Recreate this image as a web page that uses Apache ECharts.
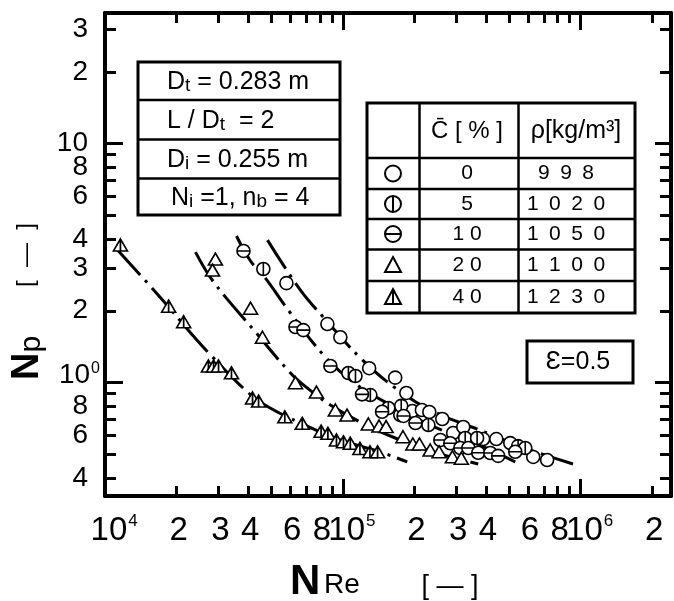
<!DOCTYPE html>
<html>
<head>
<meta charset="utf-8">
<script src="https://cdn.jsdelivr.net/npm/echarts@6.0.0/dist/echarts.min.js"></script>
<style>
html,body{margin:0;padding:0;background:#ffffff;}
#chart{width:674px;height:601px;}
</style>
</head>
<body>
<div id="chart"></div>
<script>
// ---------- axis ticks & labels ----------
const xTickValues = [1e4, 2e4, 3e4, 4e4, 6e4, 8e4, 1e5, 2e5, 3e5, 4e5, 6e5, 8e5, 1e6, 2e6];
const xTickLabels = ['10^4', '2', '3', '4', '6', '8', '10^5', '2', '3', '4', '6', '8', '10^6', '2'];
const xMinorTicks = [2e4, 3e4, 4e4, 5e4, 6e4, 7e4, 8e4, 9e4, 2e5, 3e5, 4e5, 5e5, 6e5, 7e5, 8e5, 9e5, 2e6];
const xMajorTicks = [1e4, 1e5, 1e6];
const yTickValues = [0.4, 0.6, 0.8, 1, 2, 3, 4, 6, 8, 10, 20, 30];
const yTickLabels = ['4', '6', '8', '10^0', '2', '3', '4', '6', '8', '10', '2', '3'];
const yMinorTicks = [0.4, 0.5, 0.6, 0.7, 0.8, 0.9, 2, 3, 4, 5, 6, 7, 8, 9, 20, 30];
const yMajorTicks = [1, 10];

// ---------- data (N_Re, N_p) ----------
const seriesC0 = [[5.79e4,2.61],[8.61e4,1.76],[9.76e4,1.55],[1.29e5,1.15],[1.66e5,1.05],[1.85e5,0.906],[1.96e5,0.761],[2.15e5,0.769],[2.31e5,0.754],[2.62e5,0.705],[2.91e5,0.616],[3.21e5,0.653],[3.89e5,0.581],[4.42e5,0.581],[5.06e5,0.559],[6.32e5,0.489],[7.23e5,0.475]];
const seriesC5 = [[4.63e4,2.99],[1.055e5,1.098],[1.13e5,1.067],[1.305e5,0.888],[1.553e5,0.784],[1.744e5,0.732],[1.76e5,0.80],[2.29e5,0.665],[3.27e5,0.587],[3.67e5,0.587],[5.46e5,0.543],[5.85e5,0.533]];
const seriesC10 = [[3.82e4,3.56],[6.32e4,1.71],[6.82e4,1.66],[8.86e4,1.175],[1.204e5,0.894],[1.462e5,0.756],[1.80e5,0.726],[2.02e5,0.678],[2.57e5,0.576],[2.83e5,0.558],[3.12e5,0.533],[3.37e5,0.533],[3.71e5,0.509],[4.17e5,0.508],[4.5e5,0.494],[5.31e5,0.514]];
const seriesC20 = [[2.91e4,3.29],[2.83e4,2.96],[4.09e4,2.05],[4.59e4,1.55],[6.32e4,1.0],[7.74e4,0.914],[9.3e4,0.769],[1.041e5,0.732],[1.28e5,0.672],[1.42e5,0.659],[1.52e5,0.655],[1.79e5,0.594],[1.97e5,0.554],[2.10e5,0.554],[2.33e5,0.523],[2.54e5,0.514],[2.89e5,0.490],[3.15e5,0.483]];
const seriesC40 = [[1.16e4,3.77],[1.85e4,2.09],[2.14e4,1.80],[2.72e4,1.175],[2.86e4,1.175],[3.0e4,1.175],[3.40e4,1.10],[4.17e4,0.863],[4.42e4,0.838],[5.7e4,0.72],[6.75e4,0.676],[8.1e4,0.627],[8.65e4,0.614],[9.4e4,0.576],[1.006e5,0.566],[1.075e5,0.558],[1.18e5,0.531],[1.30e5,0.514],[1.40e5,0.514]];

const curveC0 = [[4.82e4,3.95],[6.63e4,2.44],[8.28e4,1.88],[1.184e5,1.27],[1.662e5,0.95],[2.33e5,0.769],[3.85e5,0.628],[6.14e5,0.523],[9.29e5,0.457]];
const curveC10 = [[3.57e4,4.11],[4.09e4,3.23],[4.68e4,2.77],[6.02e4,1.957],[8.44e4,1.281],[1.118e5,0.997],[1.584e5,0.807],[2.33e5,0.665],[3.75e5,0.549],[5.31e5,0.466]];
const curveC20 = [[2.40e4,3.52],[2.86e4,2.64],[4.29e4,1.63],[6.02e4,1.098],[7.09e4,0.95],[8.86e4,0.807],[1.208e5,0.678],[1.662e5,0.587],[2.33e5,0.518],[3.71e5,0.457]];
const curveC40 = [[1.128e4,3.59],[1.744e4,2.22],[2.29e4,1.614],[2.78e4,1.306],[4.01e4,0.906],[4.86e4,0.791],[6.63e4,0.678],[9.76e4,0.576],[1.438e5,0.513],[1.866e5,0.466]];

// ---------- legend table ----------
const legendConc = ['0', '5', '10', '20', '40'];
const legendRho = ['998', '1020', '1050', '1100', '1230'];

const F = "'Liberation Sans', Arial, sans-serif";

const SYM_CV = 'path://M10,0A10,10,0,1,1,10,20A10,10,0,1,1,10,0ZM10,0L10,20';
const SYM_CH = 'path://M0,10A10,10,0,1,1,20,10A10,10,0,1,1,0,10ZM0,10L20,10';
const SYM_TV = 'path://M10,0L20,17L0,17ZM10,0L10,17';

function findIdx(vals, v) {
  for (let i = 0; i < vals.length; i++) {
    if (Math.abs(vals[i] - v) <= vals[i] * 1e-6) return i;
  }
  return -1;
}
function makeFmt(vals, labels) {
  return function (v) {
    const i = findIdx(vals, v);
    if (i < 0) return '';
    const s = labels[i];
    if (s.indexOf('^') >= 0) {
      const p = s.split('^');
      return '{p|' + p[0] + '}{s|' + p[1] + '}';
    }
    return '{m|' + s + '}';
  };
}

const X_MIN = 9990, X_MAX = 2.4e6, Y_MIN = 0.3357, Y_MAX = 35.24;
const axisLineStyle = {color: '#000', width: 4};
const tickStyle = {color: '#000', width: 3};

function xAxisDef(pos, showLine, ticks, len, withLabels) {
  return {
    type: 'log', logBase: 10, position: pos, min: X_MIN, max: X_MAX, gridIndex: 0,
    axisLine: {show: showLine, onZero: false, lineStyle: axisLineStyle},
    axisTick: {show: true, inside: true, length: len, customValues: ticks, lineStyle: tickStyle},
    axisLabel: withLabels ? {
      show: true, customValues: xTickValues, margin: 17,
      formatter: makeFmt(xTickValues, xTickLabels),
      rich: {
        m: {fontSize: 33, fontFamily: F, color: '#000', lineHeight: 36, padding: [0, 0, 0, 4]},
        p: {fontSize: 33, fontFamily: F, color: '#000', lineHeight: 36, padding: [0, 0, 0, 18]},
        s: {fontSize: 17, fontFamily: F, color: '#000', lineHeight: 17, padding: [0, 0, 19, 1]}
      }
    } : {show: false},
    splitLine: {show: false}, minorTick: {show: false}, minorSplitLine: {show: false}
  };
}
function yAxisDef(pos, showLine, ticks, len, withLabels) {
  return {
    type: 'log', logBase: 10, position: pos, min: Y_MIN, max: Y_MAX, gridIndex: 0,
    axisLine: {show: showLine, onZero: false, lineStyle: axisLineStyle},
    axisTick: {show: true, inside: true, length: len, customValues: ticks, lineStyle: tickStyle},
    axisLabel: withLabels ? {
      show: true, customValues: yTickValues, margin: 5,
      formatter: makeFmt(yTickValues, yTickLabels),
      rich: {
        m: {fontSize: 28, fontFamily: F, color: '#000', lineHeight: 30, padding: [0, 12, 0, 0]},
        p: {fontSize: 28, fontFamily: F, color: '#000', lineHeight: 30, padding: [0, 0, 14, 0]},
        s: {fontSize: 16, fontFamily: F, color: '#000', lineHeight: 16, padding: [0, 0, 28, 1]}
      }
    } : {show: false},
    splitLine: {show: false}, minorTick: {show: false}, minorSplitLine: {show: false}
  };
}

const dashDot = [34, 7, 3, 7];
function curve(data) {
  return {type: 'line', data: data, symbol: 'none', smooth: 0.4, silent: true, z: 2,
    xAxisIndex: 0, yAxisIndex: 0,
    lineStyle: {color: '#000', width: 3, type: dashDot}};
}
function points(data, symbol, size) {
  return {type: 'scatter', data: data, symbol: symbol, symbolSize: size, symbolKeepAspect: false,
    xAxisIndex: 0, yAxisIndex: 0, z: 3,
    itemStyle: {color: '#fff', borderColor: '#000', borderWidth: 1.6, opacity: 1}};
}

// ---------- annotation graphics ----------
const g = [];
function line(x1, y1, x2, y2, w, z) { g.push({type: 'line', z: z || 100, shape: {x1, y1, x2, y2}, style: {stroke: '#000', lineWidth: w || 2.5}}); }
function rect(x, y, w, h) { g.push({type: 'rect', z: 99, shape: {x, y, width: w, height: h}, style: {fill: '#fff', stroke: '#000', lineWidth: 3}}); }
function text(x, y, t, size, align, rich, family, rot, weight) {
  g.push({type: 'text', z: 101, x: x, y: y, rotation: rot || 0,
    style: {text: t, fontSize: size, fontFamily: family || F, fontWeight: weight || 'normal', fill: '#000', align: align || 'center', verticalAlign: 'middle', rich: rich}});
}
// left parameter box
rect(138, 62, 202, 153);
line(138, 100, 340, 100); line(138, 139.5, 340, 139.5); line(138, 178.5, 340, 178.5);
const boxRich = {
  a: {fontSize: 25, fontFamily: F, fill: '#000', verticalAlign: 'bottom', lineHeight: 28},
  b: {fontSize: 19, fontFamily: F, fill: '#000', verticalAlign: 'bottom', lineHeight: 26}
};
text(167, 81, '{a|D}{b|t}{a| = 0.283 m}', 25, 'left', boxRich);
text(167, 120, '{a|L / D}{b|t}{a|  = 2}', 25, 'left', boxRich);
text(167, 159, '{a|D}{b|i}{a| = 0.255 m}', 25, 'left', boxRich);
text(171, 197, '{a|N}{b|i}{a| =1, n}{b|b}{a| = 4}', 25, 'left', boxRich);

// right legend table
rect(367, 103, 268, 210);
line(419.5, 103, 419.5, 313); line(518.5, 103, 518.5, 313);
const rowLines = [158, 189, 219, 249.5, 281];
rowLines.forEach(y => line(367, y, 635, y));
text(467, 131, 'C\u0304 [ % ]', 24, 'center');
text(576, 131, '\u03c1[kg/m\u00b3]', 25, 'center');
const rowCenters = [173.5, 204, 234, 265, 297];
for (let i = 0; i < legendConc.length; i++) {
  text(467, rowCenters[i], legendConc[i].split('').join(' '), 21, 'center');
  text(566, rowCenters[i], legendRho[i].split('').join('\u2002'), 21, 'center');
}
const sx = 393;
const symStyle = {fill: '#fff', stroke: '#000', lineWidth: 2};
g.push({type: 'circle', z: 101, shape: {cx: sx, cy: rowCenters[0], r: 8}, style: symStyle});
g.push({type: 'circle', z: 101, shape: {cx: sx, cy: rowCenters[1], r: 8}, style: symStyle});
line(sx, rowCenters[1] - 8, sx, rowCenters[1] + 8, 2, 105);
g.push({type: 'circle', z: 101, shape: {cx: sx, cy: rowCenters[2], r: 8}, style: symStyle});
line(sx - 8, rowCenters[2], sx + 8, rowCenters[2], 2, 105);
g.push({type: 'polygon', z: 101, shape: {points: [[sx, rowCenters[3] - 8], [sx + 8, rowCenters[3] + 7], [sx - 8, rowCenters[3] + 7]]}, style: symStyle});
g.push({type: 'polygon', z: 101, shape: {points: [[sx, rowCenters[4] - 8], [sx + 8, rowCenters[4] + 7], [sx - 8, rowCenters[4] + 7]]}, style: symStyle});
line(sx, rowCenters[4] - 8, sx, rowCenters[4] + 7, 2, 105);

// epsilon box
rect(527, 341, 106, 42);
text(578, 362, '\u0190=0.5', 25, 'center');

// axis titles
text(290, 582, 'N', 42, 'left', null, F, 0, 'bold');
text(324, 585, 'Re', 28, 'left');
text(450, 587, '[ \u2014 ]', 27, 'center');
text(26, 358, '{n|N}{q|p}', 38, 'center', {
  n: {fontSize: 38, fontFamily: F, fontWeight: 'bold', fill: '#000', verticalAlign: 'bottom', lineHeight: 42},
  q: {fontSize: 30, fontFamily: F, fill: '#000', verticalAlign: 'bottom', lineHeight: 36}
}, F, Math.PI / 2);
text(26, 255, '[  \u2014  ]', 24, 'center', null, F, Math.PI / 2);

const option = {
  animation: false,
  backgroundColor: '#fff',
  grid: {left: 105, right: 3, top: 13, bottom: 105, containLabel: false, outerBoundsMode: 'none'},
  xAxis: [
    xAxisDef('bottom', true, xMinorTicks, 10, true),
    xAxisDef('bottom', false, xMajorTicks, 17, false),
    xAxisDef('top', true, xMinorTicks, 10, false),
    xAxisDef('top', false, xMajorTicks, 17, false)
  ],
  yAxis: [
    yAxisDef('left', true, yMinorTicks, 11, true),
    yAxisDef('left', false, yMajorTicks, 18, false),
    yAxisDef('right', true, yMinorTicks, 11, false),
    yAxisDef('right', false, yMajorTicks, 16, false)
  ],
  series: [
    curve(curveC0), curve(curveC10), curve(curveC20), curve(curveC40),
    points(seriesC0, 'circle', 13),
    points(seriesC5, SYM_CV, 13),
    points(seriesC10, SYM_CH, 13),
    points(seriesC20, 'triangle', [14, 12]),
    points(seriesC40, SYM_TV, [14, 12])
  ],
  graphic: g
};
const chart = echarts.init(document.getElementById('chart'), null, {renderer: 'canvas'});
chart.setOption(option);
</script>
</body>
</html>
